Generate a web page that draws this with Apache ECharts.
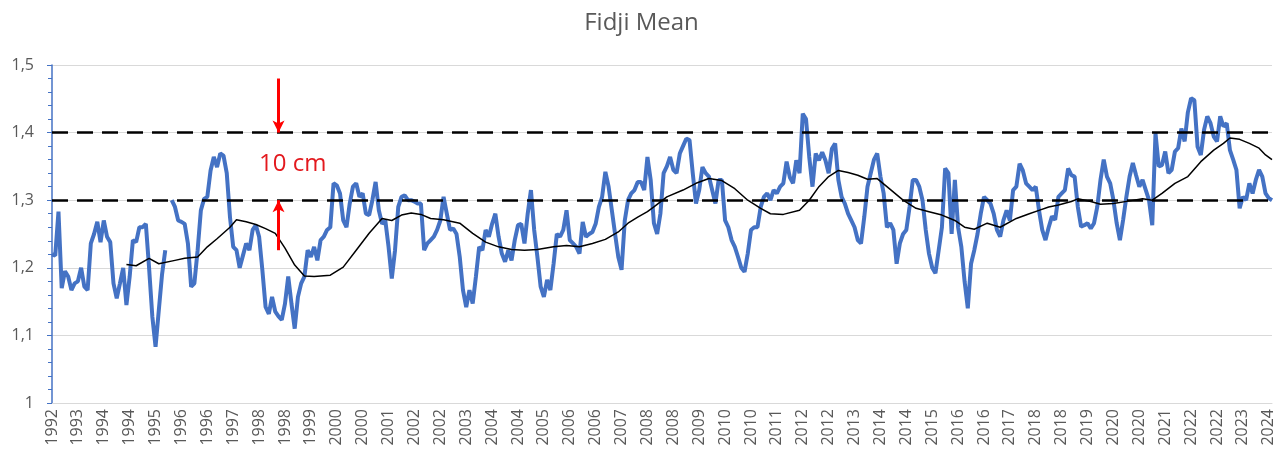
<!DOCTYPE html>
<html>
<head>
<meta charset="utf-8">
<title>Fidji Mean</title>
<script src="https://cdn.jsdelivr.net/npm/echarts@6/dist/echarts.min.js"></script>
<style>
  html, body { margin: 0; padding: 0; background: #fff; }
  #chart { width: 1283px; height: 457px; }
</style>
</head>
<body>
<div id="chart"></div>
<script>
// monthly mean sea level (m), first month Sep 1992
const startYear = 1992;
const startMonth = 9;
const seaLevel = [
  1.22, 1.218, 1.283, 1.17, 1.195, 1.187, 1.167, 1.177, 1.18, 1.2, 1.172, 1.167,
  1.236, 1.25, 1.268, 1.238, 1.27, 1.246, 1.238, 1.177, 1.155, 1.177, 1.2, 1.145,
  1.187, 1.241, 1.238, 1.26, 1.26, 1.265, 1.2, 1.128, 1.083, 1.137, 1.19, 1.226,
  null, 1.3, 1.29, 1.27, 1.268, 1.265, 1.236, 1.172, 1.177, 1.226, 1.285, 1.302,
  1.305, 1.344, 1.364, 1.349, 1.369, 1.366, 1.34, 1.275, 1.231, 1.226, 1.2, 1.218,
  1.236, 1.226, 1.256, 1.263, 1.246, 1.197, 1.142, 1.132, 1.157, 1.135, 1.128, 1.123,
  1.147, 1.187, 1.147, 1.11, 1.157, 1.177, 1.187, 1.226, 1.216, 1.231, 1.211, 1.241,
  1.246, 1.256, 1.26, 1.325, 1.322, 1.31, 1.27, 1.26, 1.295, 1.32, 1.325, 1.305,
  1.31, 1.28, 1.278, 1.3, 1.327, 1.285, 1.265, 1.27, 1.231, 1.184, 1.226, 1.29,
  1.305, 1.307, 1.3, 1.3, 1.298, 1.295, 1.295, 1.226, 1.236, 1.241, 1.246, 1.256,
  1.27, 1.305, 1.28, 1.256, 1.258, 1.25, 1.216, 1.167, 1.142, 1.167, 1.147, 1.187,
  1.231, 1.226, 1.256, 1.246, 1.265, 1.28, 1.246, 1.221, 1.209, 1.226, 1.211, 1.241,
  1.263, 1.265, 1.236, 1.28, 1.315, 1.256, 1.216, 1.172, 1.157, 1.182, 1.167, 1.206,
  1.25, 1.246, 1.256, 1.285, 1.241, 1.236, 1.231, 1.221, 1.268, 1.246, 1.25, 1.253,
  1.265, 1.29, 1.305, 1.342, 1.32, 1.285, 1.25, 1.216, 1.197, 1.27, 1.3, 1.31,
  1.315, 1.327, 1.327, 1.315, 1.364, 1.33, 1.266, 1.25, 1.28, 1.34, 1.35, 1.364,
  1.345, 1.34, 1.369, 1.38, 1.391, 1.389, 1.34, 1.295, 1.315, 1.349, 1.34, 1.335,
  1.315, 1.295, 1.33, 1.33, 1.27, 1.26, 1.241, 1.231, 1.216, 1.2, 1.194, 1.221,
  1.256, 1.26, 1.26, 1.29, 1.305, 1.31, 1.3, 1.315, 1.31, 1.32, 1.325, 1.357,
  1.334, 1.325, 1.359, 1.34, 1.428, 1.42, 1.364, 1.32, 1.369, 1.359, 1.371, 1.359,
  1.34, 1.376, 1.384, 1.33, 1.305, 1.295, 1.28, 1.27, 1.26, 1.241, 1.236, 1.275,
  1.32, 1.34, 1.36, 1.369, 1.335, 1.31, 1.26, 1.266, 1.256, 1.206, 1.236, 1.25,
  1.256, 1.29, 1.33, 1.33, 1.32, 1.3, 1.256, 1.221, 1.2, 1.192, 1.226, 1.26,
  1.347, 1.34, 1.25, 1.33, 1.26, 1.231, 1.18, 1.14, 1.206, 1.226, 1.25, 1.28,
  1.305, 1.3, 1.295, 1.28, 1.256, 1.246, 1.27, 1.285, 1.27, 1.315, 1.32, 1.354,
  1.344, 1.325, 1.32, 1.315, 1.32, 1.285, 1.256, 1.241, 1.26, 1.276, 1.271, 1.305,
  1.31, 1.315, 1.347, 1.337, 1.335, 1.29, 1.261, 1.263, 1.266, 1.258, 1.266, 1.29,
  1.33, 1.36, 1.335, 1.325, 1.3, 1.266, 1.241, 1.271, 1.305, 1.335, 1.355, 1.337,
  1.32, 1.33, 1.315, 1.3, 1.263, 1.399, 1.35, 1.352, 1.372, 1.34, 1.345, 1.372,
  1.377, 1.406, 1.387, 1.43, 1.451, 1.448, 1.379, 1.367, 1.404, 1.424, 1.414, 1.394,
  1.387, 1.424, 1.409, 1.414, 1.374, 1.36, 1.345, 1.288, 1.305, 1.3, 1.325, 1.31,
  1.33, 1.345, 1.335, 1.31, 1.303, 1.3
];

// moving average: [month index, value]
const movingAvg = [
  [23, 1.205], [26, 1.203], [30, 1.214], [33, 1.206], [38, 1.211], [41, 1.214],
  [45, 1.216], [48, 1.231], [51, 1.243], [55, 1.26], [57, 1.271], [60, 1.268],
  [63, 1.264], [66, 1.258], [69, 1.251], [72, 1.229], [75, 1.204], [78, 1.188],
  [81, 1.187], [86, 1.189], [90, 1.201], [94, 1.226], [98, 1.251], [102, 1.273],
  [105, 1.27], [108, 1.278], [111, 1.281], [114, 1.279], [117, 1.273], [121, 1.271],
  [126, 1.266], [130, 1.251], [134, 1.238], [138, 1.231], [142, 1.227], [146, 1.226],
  [150, 1.227], [155, 1.231], [159, 1.233], [163, 1.231], [167, 1.236], [171, 1.242],
  [175, 1.253], [178, 1.266], [181, 1.275], [184, 1.283], [186, 1.29], [190, 1.305],
  [195, 1.315], [199, 1.325], [203, 1.332], [207, 1.329], [211, 1.317], [215, 1.3],
  [219, 1.288], [222, 1.28], [226, 1.279], [231, 1.285], [234, 1.3], [237, 1.32],
  [240, 1.335], [243, 1.344], [246, 1.341], [249, 1.337], [252, 1.331], [255, 1.332],
  [258, 1.32], [263, 1.3], [267, 1.288], [271, 1.283], [275, 1.278], [279, 1.27],
  [282, 1.26], [285, 1.257], [289, 1.266], [293, 1.26], [298, 1.273], [302, 1.28],
  [305, 1.285], [308, 1.29], [311, 1.293], [315, 1.298], [317, 1.302], [321, 1.298],
  [324, 1.294], [328, 1.295], [333, 1.299], [337, 1.302], [340, 1.3], [343, 1.31],
  [347, 1.325], [351, 1.335], [355, 1.357], [359, 1.374], [362, 1.384], [364, 1.392],
  [367, 1.39], [370, 1.384], [373, 1.377], [375, 1.367], [377, 1.36]
];

const refLevels = [1.4, 1.3];
// red arrows around the 10 cm gap
const arrowIndex = 70;
const arrowDown = [1.48, 1.4];
const arrowUp = [1.226, 1.3];

// category per month, shown as year only
const months = [];
for (let i = 0; i < seaLevel.length; i++) {
  const m = startMonth - 1 + i;
  const y = startYear + Math.floor(m / 12);
  months.push(y + '-' + String((m % 12) + 1).padStart(2, '0'));
}

const font = '"Open Sans", "Liberation Sans", sans-serif';
const chart = echarts.init(document.getElementById('chart'));

chart.setOption({
  animation: false,
  title: {
    text: 'Fidji Mean',
    left: 'center',
    top: 6,
    textStyle: { color: '#595959', fontSize: 24, fontWeight: 'normal', fontFamily: font }
  },
  grid: { left: 52, right: 11, top: 65, bottom: 54 },
  xAxis: {
    type: 'category',
    data: months,
    boundaryGap: false,
    axisLine: { lineStyle: { color: '#d9d9d9' } },
    axisTick: { show: false },
    axisLabel: {
      interval: 7,
      rotate: 90,
      color: '#595959',
      fontSize: 16,
      fontFamily: font,
      margin: 6,
      formatter: (v) => v.slice(0, 4)
    },
    splitLine: { show: false }
  },
  yAxis: {
    type: 'value',
    min: 1,
    max: 1.5,
    interval: 0.1,
    axisLine: { show: true, lineStyle: { color: '#4472c4', width: 1.5 } },
    axisTick: { show: true, length: 5, lineStyle: { color: '#4472c4' } },
    minorTick: { show: true, splitNumber: 5, length: 4, lineStyle: { color: '#4472c4' } },
    axisLabel: {
      color: '#595959',
      fontSize: 16,
      fontFamily: font,
      margin: 18,
      formatter: (v) => (v === 1 ? '1' : v.toFixed(1).replace('.', ','))
    },
    splitLine: { lineStyle: { color: '#d9d9d9' } }
  },
  graphic: [
    {
      type: 'text',
      left: 259,
      top: 152,
      style: { text: '10 cm', fill: '#e3191e', font: '24px ' + font }
    }
  ],
  series: [
    {
      name: 'Mean',
      type: 'line',
      data: seaLevel,
      showSymbol: false,
      connectNulls: false,
      lineStyle: { color: '#4472c4', width: 4 },
      z: 2
    },
    {
      name: 'Moyenne mobile',
      type: 'line',
      data: movingAvg,
      showSymbol: false,
      connectNulls: true,
      lineStyle: { color: '#000', width: 1.5 },
      z: 3,
      markLine: {
        silent: true,
        symbol: ['none', 'none'],
        label: { show: false },
        data: [
          ...refLevels.map((v) => ({
            yAxis: v,
            lineStyle: { color: '#000', width: 2.5, type: [16, 9] }
          })),
          [
            { coord: [arrowIndex, arrowDown[0]], symbol: 'none' },
            { coord: [arrowIndex, arrowDown[1]], symbol: 'arrow', symbolSize: [9, 12], lineStyle: { color: '#ff0000', width: 3, type: 'solid' } }
          ],
          [
            { coord: [arrowIndex, arrowUp[0]], symbol: 'none' },
            { coord: [arrowIndex, arrowUp[1]], symbol: 'arrow', symbolSize: [9, 12], lineStyle: { color: '#ff0000', width: 3, type: 'solid' } }
          ]
        ]
      }
    }
  ]
});
</script>
</body>
</html>
